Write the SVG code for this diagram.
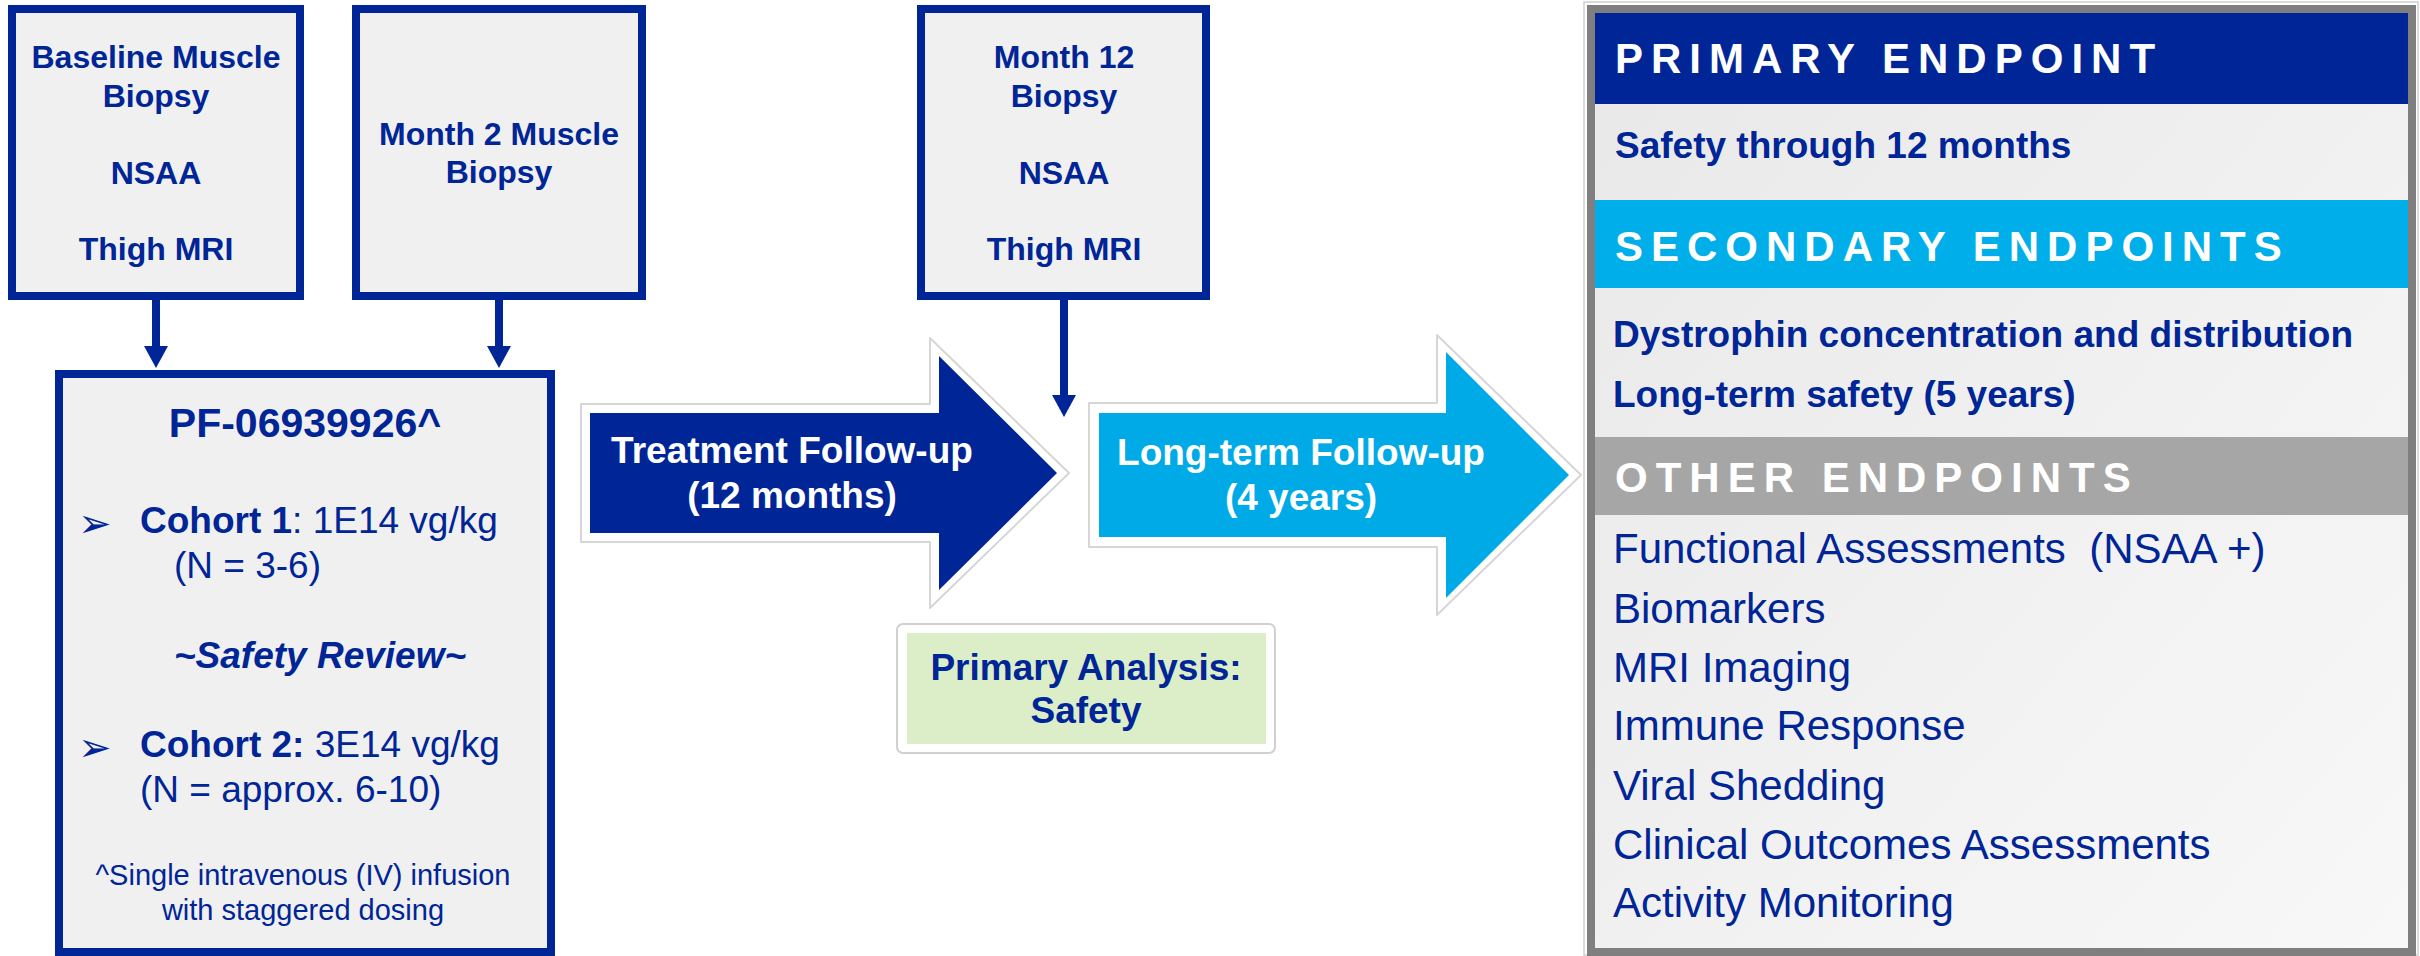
<svg xmlns="http://www.w3.org/2000/svg" width="2420" height="956" viewBox="0 0 2420 956">
<style>
  text { font-family: "Liberation Sans", Arial, sans-serif; }
  .box { fill: #f0f0f0; stroke: #002596; stroke-width: 8; }
  .bt { font-size: 32px; font-weight: bold; fill: #002596; text-anchor: middle; }
  .ct { font-size: 37px; fill: #002596; }
  .b { font-weight: bold; }
  .bul { font-family: "DejaVu Sans", sans-serif; font-size: 40px; fill: #002596; }
  .wt { font-size: 37px; font-weight: bold; fill: #ffffff; text-anchor: middle; }
  .hd { font-size: 42px; font-weight: bold; fill: #ffffff; letter-spacing: 8px; }
  .rb { font-size: 37px; font-weight: bold; fill: #002596; }
  .rr { font-size: 42px; fill: #002596; }
  .conn { stroke: #002596; stroke-width: 8; fill: none; marker-end: url(#ah); }
  .halo { fill: #ffffff; stroke: #d6d6d6; stroke-width: 2; stroke-linejoin: round; }
</style>
<defs>
  <marker id="ah" markerUnits="userSpaceOnUse" markerWidth="22" markerHeight="24" viewBox="0 0 22 24" refX="0" refY="12" orient="auto">
    <path d="M0,0 L22,12 L0,24 z" fill="#002596"/>
  </marker>
  <linearGradient id="bodyg" x1="0" y1="0" x2="1" y2="1">
    <stop offset="0" stop-color="#e8e8e8"/>
    <stop offset="1" stop-color="#f8f8f8"/>
  </linearGradient>
</defs>
<rect x="0" y="0" width="2420" height="956" fill="#ffffff"/>

<g id="baseline-box">
  <rect class="box" x="12" y="9" width="288" height="287"/>
  <text class="bt" x="156" y="68">Baseline Muscle</text>
  <text class="bt" x="156" y="107">Biopsy</text>
  <text class="bt" x="156" y="184">NSAA</text>
  <text class="bt" x="156" y="260">Thigh MRI</text>
</g>

<g id="month2-box">
  <rect class="box" x="356" y="9" width="286" height="287"/>
  <text class="bt" x="499" y="145">Month 2 Muscle</text>
  <text class="bt" x="499" y="183">Biopsy</text>
</g>

<g id="month12-box">
  <rect class="box" x="921" y="9" width="285" height="287"/>
  <text class="bt" x="1064" y="68">Month 12</text>
  <text class="bt" x="1064" y="107">Biopsy</text>
  <text class="bt" x="1064" y="184">NSAA</text>
  <text class="bt" x="1064" y="260">Thigh MRI</text>
</g>

<g id="pf-box">
  <rect class="box" x="59" y="374" width="492" height="578"/>
  <text x="305" y="437" font-size="41" font-weight="bold" fill="#002596" text-anchor="middle">PF-06939926^</text>
  <text class="bul" x="78" y="537">➢</text>
  <text class="ct" x="140" y="533"><tspan class="b">Cohort 1</tspan>: 1E14 vg/kg</text>
  <text class="ct" x="174" y="578">(N = 3-6)</text>
  <text class="ct" x="320" y="668" font-weight="bold" font-style="italic" text-anchor="middle">~Safety Review~</text>
  <text class="bul" x="78" y="761">➢</text>
  <text class="ct" x="140" y="757"><tspan class="b">Cohort 2:</tspan> 3E14 vg/kg</text>
  <text class="ct" x="140" y="802">(N = approx. 6-10)</text>
  <text x="303" y="885" font-size="29" fill="#002596" text-anchor="middle">^Single intravenous (IV) infusion</text>
  <text x="303" y="920" font-size="29" fill="#002596" text-anchor="middle">with staggered dosing</text>
</g>

<g id="treatment-arrow">
  <polygon class="halo" points="581,404 930,404 930,338 1069,473 930,608 930,542 581,542"/>
  <polygon fill="#002596" points="590,413 939,413 939,356 1057,473 939,590 939,533 590,533"/>
  <text class="wt" x="792" y="463">Treatment Follow-up</text>
  <text class="wt" x="792" y="508">(12 months)</text>
</g>

<g id="longterm-arrow">
  <polygon class="halo" points="1089,403 1437,403 1437,335 1581,475 1437,615 1437,547 1089,547"/>
  <polygon fill="#00aae6" points="1099,413 1446,413 1446,352 1569,475 1446,598 1446,537 1099,537"/>
  <text class="wt" x="1301" y="465">Long-term Follow-up</text>
  <text class="wt" x="1301" y="510">(4 years)</text>
</g>

<g id="primary-analysis">
  <rect x="897" y="624" width="378" height="129" rx="6" fill="#ffffff" stroke="#d0d0d0" stroke-width="2"/>
  <rect x="907" y="633" width="359" height="111" fill="#dbeec8"/>
  <text x="1086" y="680" font-size="37" font-weight="bold" fill="#002596" text-anchor="middle">Primary Analysis:</text>
  <text x="1086" y="723" font-size="37" font-weight="bold" fill="#002596" text-anchor="middle">Safety</text>
</g>

<g id="endpoints-panel">
  <rect x="1584" y="2" width="834" height="953" fill="none" stroke="#d0d0d0" stroke-width="1.5"/>
  <rect x="1595" y="13" width="813" height="935" fill="url(#bodyg)"/>
  <rect x="1595" y="13" width="813" height="91" fill="#002596"/>
  <text class="hd" x="1615" y="73">PRIMARY ENDPOINT</text>
  <text class="rb" x="1615" y="158">Safety through 12 months</text>
  <rect x="1595" y="200" width="813" height="88" fill="#00aeea"/>
  <text class="hd" x="1615" y="261">SECONDARY ENDPOINTS</text>
  <text class="rb" x="1613" y="347">Dystrophin concentration and distribution</text>
  <text class="rb" x="1613" y="407">Long-term safety (5 years)</text>
  <rect x="1595" y="437" width="813" height="78" fill="#a6a6a6"/>
  <text class="hd" x="1615" y="492">OTHER ENDPOINTS</text>
  <text class="rr" x="1613" y="563" xml:space="preserve">Functional Assessments  (NSAA +)</text>
  <text class="rr" x="1613" y="623">Biomarkers</text>
  <text class="rr" x="1613" y="682">MRI Imaging</text>
  <text class="rr" x="1613" y="740">Immune Response</text>
  <text class="rr" x="1613" y="800">Viral Shedding</text>
  <text class="rr" x="1613" y="859">Clinical Outcomes Assessments</text>
  <text class="rr" x="1613" y="917">Activity Monitoring</text>
  <rect x="1591" y="9" width="821" height="943" fill="none" stroke="#7f7f7f" stroke-width="8"/>
</g>

<g id="connectors">
  <line class="conn" x1="156" y1="300" x2="156" y2="346"/>
  <line class="conn" x1="499" y1="300" x2="499" y2="346"/>
  <line class="conn" x1="1064" y1="300" x2="1064" y2="395"/>
</g>
</svg>
